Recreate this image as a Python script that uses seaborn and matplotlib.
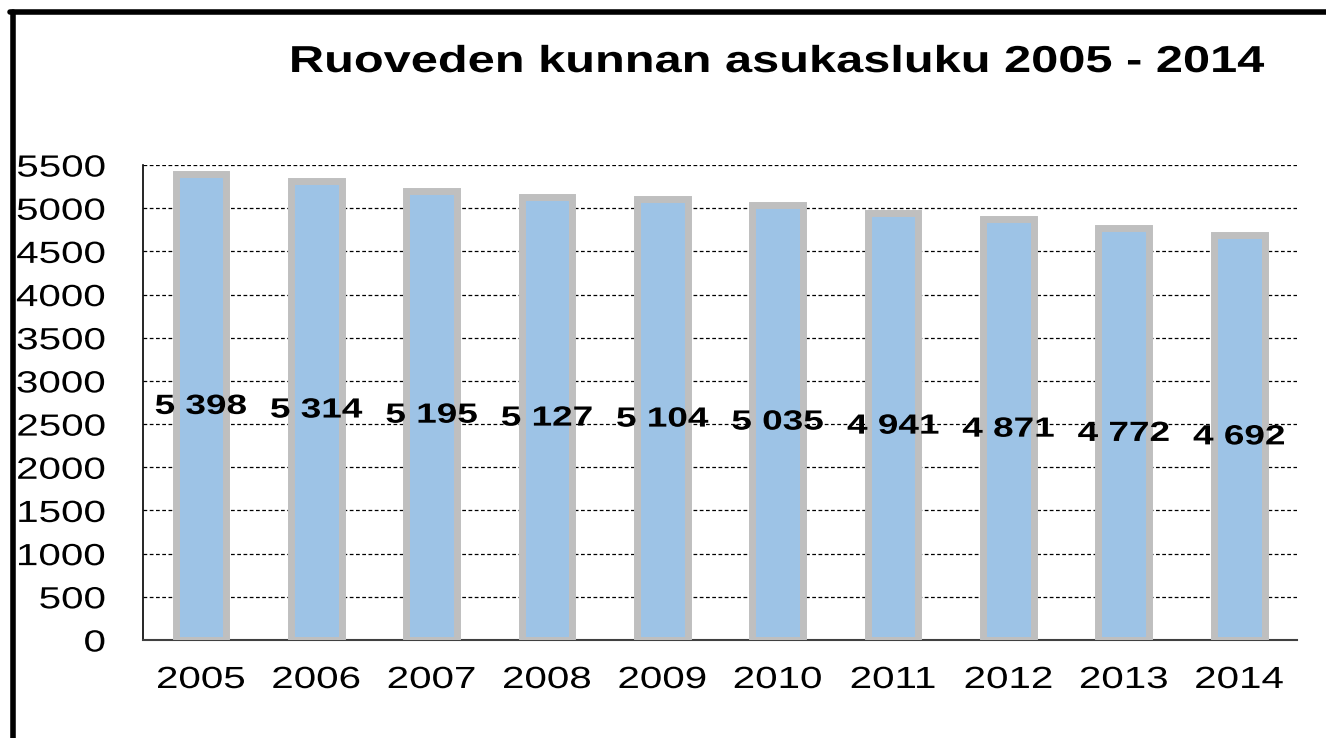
import numpy as np
import pandas as pd
import matplotlib
matplotlib.use("Agg")
import matplotlib.pyplot as plt
import seaborn as sns
from matplotlib.lines import Line2D
from matplotlib.ticker import FixedLocator
from matplotlib.patheffects import AbstractPathEffect
from matplotlib.transforms import Affine2D

years = ["2005", "2006", "2007", "2008", "2009", "2010", "2011", "2012", "2013", "2014"]
asukasluku = [5398, 5314, 5195, 5127, 5104, 5035, 4941, 4871, 4772, 4692]
labels = ["5 398", "5 314", "5 195", "5 127", "5 104", "5 035", "4 941", "4 871", "4 772", "4 692"]
yticks = list(range(0, 5501, 500))


# alkuperäisen kuvan teksti on venytetty leveyssuunnassa, joten venytetään tekstiä samoin
class Venytys(AbstractPathEffect):
    def __init__(self, sx, ankkuri="center"):
        super().__init__()
        self.sx = sx
        self.ankkuri = ankkuri

    def draw_path(self, renderer, gc, tpath, affine, rgbFace=None):
        ext = tpath.get_extents(affine)
        if self.ankkuri == "right":
            cx = ext.x1
        else:
            cx = (ext.x0 + ext.x1) / 2
        uusi = affine + Affine2D().translate(-cx, 0).scale(self.sx, 1).translate(cx, 0)
        renderer.draw_path(gc, tpath, uusi, rgbFace)


sns.set_style("white")
plt.rcParams["font.family"] = ["Liberation Sans", "DejaVu Sans"]
plt.rcParams["text.color"] = "black"
plt.rcParams["xtick.color"] = "black"
plt.rcParams["ytick.color"] = "black"

df = pd.DataFrame({"vuosi": years, "asukkaat": asukasluku})

fig = plt.figure(figsize=(13.26, 7.38), dpi=100)
ax = fig.add_axes([0.108, 0.1328, 0.870, 0.6436])

sns.barplot(data=df, x="vuosi", y="asukkaat", ax=ax, color="#9DC3E6",
            edgecolor="#BFBFBF", linewidth=5, width=0.44, saturation=1, zorder=3)

# arvot pylväiden keskelle
tekstit = ax.bar_label(ax.containers[0], labels=labels, label_type="center",
                       fontsize=20, fontweight="bold", color="black", zorder=5)
for t in tekstit:
    t.set_path_effects([Venytys(1.33)])

ax.set_ylim(0, 5500)
ax.set_xlim(-0.5, 9.5)
ax.set_yticks(yticks)
ax.set_yticklabels([str(t) for t in yticks], fontsize=22)
ax.set_xticks(range(len(years)))
ax.set_xticklabels(years, fontsize=22)
for t in ax.get_yticklabels():
    t.set_path_effects([Venytys(1.32, "right")])
for t in ax.get_xticklabels():
    t.set_path_effects([Venytys(1.32)])
ax.tick_params(axis="x", length=0, pad=18)
ax.xaxis.set_minor_locator(FixedLocator(np.arange(-0.5, 10, 1)))
ax.tick_params(axis="x", which="minor", length=8, direction="out", color="#404040", width=1.5)
ax.tick_params(axis="y", length=10, direction="inout", color="black", width=1.2, pad=22)

ax.yaxis.grid(True, linestyle=(0, (3, 2)), color="black", linewidth=0.9, zorder=0)
ax.set_axisbelow(True)
ax.set_xlabel("")
ax.set_ylabel("")
for s in ["top", "right"]:
    ax.spines[s].set_visible(False)
ax.spines["left"].set_color("black")
ax.spines["left"].set_linewidth(1.2)
ax.spines["bottom"].set_color("#404040")
ax.spines["bottom"].set_linewidth(1.5)

otsikko = fig.text(0.586, 0.916, "Ruoveden kunnan asukasluku 2005 - 2014",
                   ha="center", va="center", fontsize=27, fontweight="bold", color="black")
otsikko.set_path_effects([Venytys(1.30)])

# musta kehys ylhäällä ja vasemmalla
fig.add_artist(Line2D([0.0095, 0.0095], [0.0, 0.984], color="black", linewidth=4, transform=fig.transFigure))
fig.add_artist(Line2D([0.0078, 1.0], [0.984, 0.984], color="black", linewidth=4, transform=fig.transFigure))

fig.savefig("out.png", dpi=100)
